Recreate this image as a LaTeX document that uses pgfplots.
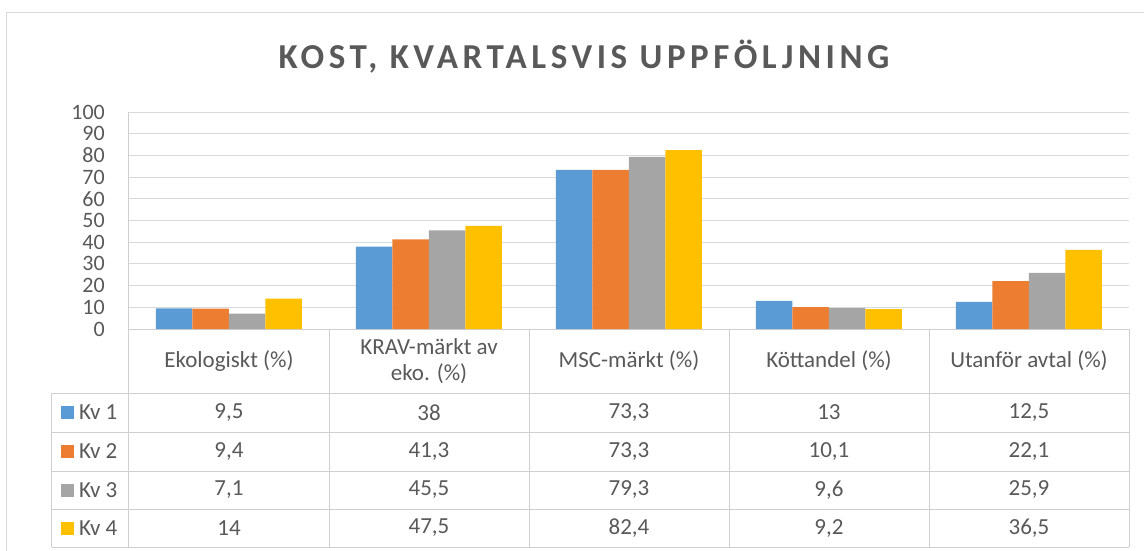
\documentclass[border=0pt]{standalone}
\usepackage{pgfplots}
\usepackage{pgfplotstable}
\pgfplotsset{compat=1.18}
\usepackage{fontspec}
\setmainfont{Carlito}
\newfontfamily\titlefont[LetterSpace=13]{Carlito}
\definecolor{cKa}{HTML}{5B9BD5}
\definecolor{cKb}{HTML}{ED7D31}
\definecolor{cKc}{HTML}{A5A5A5}
\definecolor{cKd}{HTML}{FFC000}
\definecolor{txt}{HTML}{595959}
\definecolor{gridc}{HTML}{D9D9D9}
\definecolor{tabc}{HTML}{CFCFCF}
\pgfplotstableread{
x kv1 kv2 kv3 kv4
0 9.5 9.4 7.1 14
1 38 41.3 45.5 47.5
2 73.3 73.3 79.3 82.4
3 13 10.1 9.6 9.2
4 12.5 22.1 25.9 36.5
}\data
\newcommand{\tfont}{\fontsize{23}{26}\selectfont}
\newcommand{\yfont}{\fontsize{22}{24}\selectfont}
\begin{document}
\begin{tikzpicture}[x=1pt,y=1pt]
\useasboundingbox (-129,-221) rectangle (1015,329);
% outer chart border
\draw[color=gray!30, line width=1pt] (-122,317) rectangle (1030,-235);
% title
\node[anchor=base, text=txt, font=\titlefont\bfseries\fontsize{35}{40}\selectfont] at (455,261) {KOST, KVARTALSVIS UPPFÖLJNING};
\begin{axis}[
  at={(0,0)}, anchor=south west,
  scale only axis, width=1000pt, height=217pt,
  xmin=-0.5, xmax=4.5, ymin=0, ymax=100,
  clip=false,
  axis x line*=bottom, axis y line*=left,
  x axis line style={color=tabc, line width=1pt, -},
  y axis line style={color=tabc, line width=1pt, -},
  ytick={0,10,...,100},
  ymajorgrids, grid style={color=gridc, line width=1pt},
  major tick length=0pt,
  xtick={0,1,2,3,4},
  xticklabels={Ekologiskt (\%), KRAV-märkt av\\eko. (\%), MSC-märkt (\%), Köttandel (\%), Utanför avtal (\%)},
  xticklabel style={anchor=center, yshift=-32pt, align=center, text=txt, font=\tfont},
  yticklabel style={anchor=east, inner sep=0pt, xshift=-24pt, text=txt, font=\yfont},
  /pgf/number format/assume math mode=true,
  /pgf/number format/use comma,
  bar width=36.5pt,
]
\addplot[ybar, bar shift=-54.75pt, fill=cKa, draw=none] table[x=x, y=kv1] {\data};
\addplot[ybar, bar shift=-18.25pt, fill=cKb, draw=none] table[x=x, y=kv2] {\data};
\addplot[ybar, bar shift=18.25pt, fill=cKc, draw=none] table[x=x, y=kv3] {\data};
\addplot[ybar, bar shift=54.75pt, fill=cKd, draw=none] table[x=x, y=kv4] {\data};
% data table values
\pgfplotsset{tabvals/.style={only marks, mark=none, nodes near coords, point meta=explicit,
  every node near coord/.style={anchor=center, text=txt, font=\tfont, inner sep=0pt}}}
\addplot[tabvals] table[x=x, y expr=-38.48, meta=kv1] {\data};
\addplot[tabvals] table[x=x, y expr=-56.45, meta=kv2] {\data};
\addplot[tabvals] table[x=x, y expr=-74.19, meta=kv3] {\data};
\addplot[tabvals] table[x=x, y expr=-91.71, meta=kv4] {\data};
\end{axis}
% table grid
\begin{scope}[color=tabc, line width=1pt]
\foreach \xx in {0,200,400,600,800,1000} \draw (\xx,0) -- (\xx,-218);
\draw (-77,-64) -- (-77,-218);
\foreach \yy in {-64,-103,-142,-180,-218} \draw (-77,\yy) -- (1000,\yy);
\end{scope}
% legend keys
\foreach \yc/\cc/\lab in {-83.5/cKa/Kv 1, -122.5/cKb/Kv 2, -161/cKc/Kv 3, -199/cKd/Kv 4} {
  \fill[\cc] (-68,\yc-6.5) rectangle (-55,\yc+6.5);
  \node[anchor=west, inner sep=0pt, text=txt, font=\tfont] at (-50,\yc) {\lab};
}
\end{tikzpicture}
\end{document}
